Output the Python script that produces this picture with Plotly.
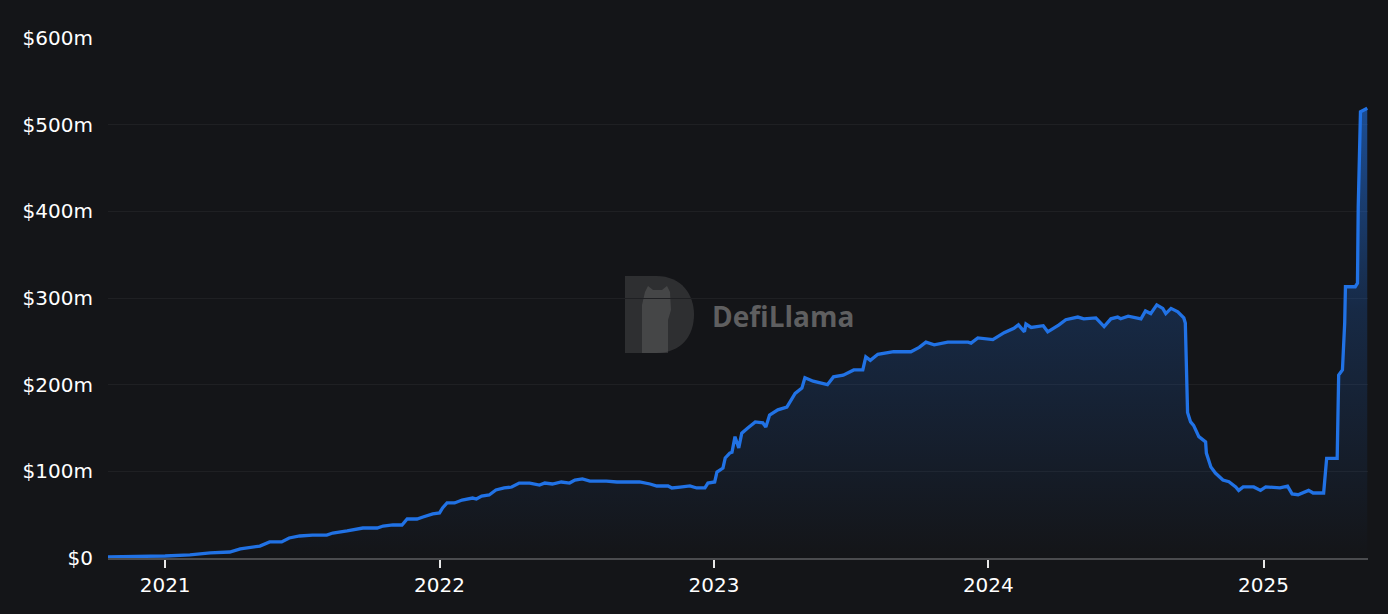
import plotly.graph_objects as go

dates = [
    "2020-10-17", "2020-11-15", "2020-12-12", "2021-01-01", "2021-02-03", "2021-03-02",
    "2021-03-28", "2021-04-11", "2021-05-07", "2021-05-13", "2021-05-20", "2021-06-05",
    "2021-06-15", "2021-06-29", "2021-07-16", "2021-08-04", "2021-08-12", "2021-08-31",
    "2021-09-21", "2021-10-10", "2021-10-18", "2021-10-31", "2021-11-12", "2021-11-19",
    "2021-12-02", "2021-12-10", "2021-12-23", "2022-01-01", "2022-01-05", "2022-01-11",
    "2022-01-21", "2022-01-31", "2022-02-14", "2022-02-19", "2022-02-26", "2022-03-08",
    "2022-03-17", "2022-03-28", "2022-04-07", "2022-04-17", "2022-05-01", "2022-05-14",
    "2022-05-21", "2022-05-31", "2022-06-12", "2022-06-23", "2022-06-30", "2022-07-10",
    "2022-07-20", "2022-08-11", "2022-08-25", "2022-09-07", "2022-09-24", "2022-10-08",
    "2022-10-17", "2022-11-01", "2022-11-06", "2022-11-17", "2022-11-30", "2022-12-09",
    "2022-12-20", "2022-12-24", "2023-01-02", "2023-01-05", "2023-01-13", "2023-01-16",
    "2023-01-22", "2023-01-25", "2023-01-29", "2023-02-03", "2023-02-07", "2023-02-15",
    "2023-02-25", "2023-03-07", "2023-03-11", "2023-03-16", "2023-03-27", "2023-04-08",
    "2023-04-19", "2023-04-28", "2023-05-02", "2023-05-13", "2023-06-01", "2023-06-09",
    "2023-06-22", "2023-07-06", "2023-07-18", "2023-07-22", "2023-07-28", "2023-08-07",
    "2023-08-28", "2023-09-20", "2023-10-01", "2023-10-10", "2023-10-21", "2023-11-08",
    "2023-12-05", "2023-12-09", "2023-12-18", "2024-01-07", "2024-01-15", "2024-01-22",
    "2024-02-04", "2024-02-10", "2024-02-18", "2024-02-20", "2024-02-27", "2024-03-14",
    "2024-03-20", "2024-04-04", "2024-04-13", "2024-04-29", "2024-05-07", "2024-05-23",
    "2024-06-03", "2024-06-12", "2024-06-21", "2024-06-25", "2024-07-05", "2024-07-13",
    "2024-07-22", "2024-07-28", "2024-08-04", "2024-08-12", "2024-08-20", "2024-08-24",
    "2024-08-31", "2024-09-09", "2024-09-17", "2024-09-19", "2024-09-22", "2024-09-26",
    "2024-09-30", "2024-10-07", "2024-10-16", "2024-10-17", "2024-10-23", "2024-10-29",
    "2024-11-08", "2024-11-16", "2024-11-25", "2024-11-29", "2024-12-05", "2024-12-19",
    "2024-12-28", "2025-01-04", "2025-01-23", "2025-02-02", "2025-02-08", "2025-02-16",
    "2025-03-02", "2025-03-08", "2025-03-22", "2025-03-26", "2025-04-09", "2025-04-11",
    "2025-04-16", "2025-04-19", "2025-04-20", "2025-05-03", "2025-05-06", "2025-05-07",
    "2025-05-10", "2025-05-19",
]

tvl_musd = [
    1.2, 1.5, 2.0, 2.3, 3.5, 5.8,
    6.9, 10.4, 13.8, 16.2, 18.5, 18.5,
    23.1, 25.4, 26.5, 26.5, 28.8, 31.2,
    34.6, 34.6, 36.9, 38.1, 38.1, 45.0,
    45.0, 47.3, 50.8, 52.0, 57.7, 63.5,
    63.5, 66.9, 69.2, 68.1, 71.5, 72.7,
    78.5, 80.8, 81.9, 86.5, 86.5, 84.2,
    86.5, 85.4, 87.7, 86.5, 90.0, 91.2,
    88.8, 88.8, 87.7, 87.7, 87.7, 85.4,
    83.1, 83.1, 80.8, 81.9, 83.1, 80.8,
    80.8, 86.5, 87.7, 99.2, 103.8, 115.4,
    121.1, 122, 140, 127, 144, 150,
    157, 156, 151, 165, 171, 174,
    190, 196, 208, 204, 200, 209,
    211, 217, 217, 232, 228, 235,
    238, 238, 243, 249, 246, 249,
    249, 248, 254, 252, 256, 260,
    265, 269, 261, 270, 266, 268,
    261, 269, 275, 278, 276, 277,
    267, 276, 278, 276, 279, 278,
    276, 285, 282, 292, 288, 282,
    288, 284, 277, 271, 168, 157,
    153, 140, 134, 121, 105, 98,
    90, 88, 82, 78, 82, 82,
    78, 82, 81, 83, 74, 73,
    78, 75, 75, 115, 115, 211,
    217, 271, 313, 313, 317, 405,
    515, 519,
]

y_tickvals = [0, 100, 200, 300, 400, 500, 600]
y_ticktext = ["$0", "$100m", "$200m", "$300m", "$400m", "$500m", "$600m"]
x_tickvals = ["2021-01-01", "2022-01-01", "2023-01-01", "2024-01-01", "2025-01-01"]
x_ticktext = ["2021", "2022", "2023", "2024", "2025"]

BG = "#141518"
LINE = "#2172E5"
FONT = "DejaVu Sans"

fig = go.Figure()
fig.add_trace(go.Scatter(
    x=dates, y=tvl_musd, mode="lines",
    line=dict(color=LINE, width=3.3),
    fill="tozeroy",
    fillgradient=dict(
        type="vertical",
        start=0, stop=max(tvl_musd),
        colorscale=[[0, "rgba(33,114,229,0.0)"],
                    [0.55, "rgba(33,114,229,0.22)"],
                    [1, "rgba(33,114,229,0.6)"]],
    ),
    hoverinfo="skip", showlegend=False,
))

# Watermark: "D" badge + text (paper coords)
def px_x(p):
    return (p - 108) / 1260.0

def px_y(p):
    return (558 - p) / 520.0

x0, x1, xm = px_x(625), px_x(694), px_x(656)
yt, yb = px_y(276), px_y(353)
fig.add_shape(
    type="path", xref="paper", yref="paper",
    path=(f"M {x0},{yb} L {x0},{yt} L {xm},{yt} "
          f"C {px_x(682)},{yt} {x1},{px_y(295)} {x1},{(yt+yb)/2} "
          f"C {x1},{px_y(335)} {px_x(682)},{yb} {xm},{yb} Z"),
    fillcolor="rgba(110,110,110,0.30)", line=dict(width=0), layer="below",
)
fig.add_shape(
    type="path", xref="paper", yref="paper",
    path=(f"M {px_x(642)},{px_y(353)} L {px_x(642)},{px_y(305)} L {px_x(645)},{px_y(292)} "
          f"L {px_x(648)},{px_y(286)} L {px_x(653)},{px_y(290)} L {px_x(662)},{px_y(290)} "
          f"L {px_x(667)},{px_y(286)} L {px_x(670)},{px_y(292)} L {px_x(671)},{px_y(310)} "
          f"L {px_x(668)},{px_y(320)} L {px_x(668)},{px_y(353)} Z"),
    fillcolor="rgba(140,140,140,0.25)", line=dict(width=0), layer="below",
)
fig.add_annotation(
    x=px_x(783), y=px_y(316), xref="paper", yref="paper",
    text="<b>DefiLlama</b>", showarrow=False,
    font=dict(family="Open Sans", size=28, color="rgba(120,120,120,0.75)"),
)

fig.update_layout(
    width=1388, height=614,
    paper_bgcolor=BG, plot_bgcolor=BG,
    margin=dict(l=108, r=20, t=38, b=56),
    font=dict(family=FONT, size=20, color="#ffffff"),
    xaxis=dict(
        type="date",
        range=["2020-10-17", "2025-05-20"],
        tickvals=x_tickvals, ticktext=x_ticktext,
        showgrid=False, zeroline=False,
        showline=True, linecolor="#4a4b4e", linewidth=2,
        ticks="outside", ticklen=8, tickwidth=2, tickcolor="#e8e8e8",
        tickfont=dict(family=FONT, size=20, color="#ffffff"),
    ),
    yaxis=dict(
        range=[0, 600],
        tickvals=y_tickvals, ticktext=y_ticktext,
        showgrid=True, gridcolor="#1f2023", gridwidth=1,
        zeroline=False, showline=False, ticks="",
        ticklabelstandoff=14,
        tickfont=dict(family=FONT, size=20, color="#ffffff"),
    ),
)

fig.write_html(
    "out.html",
    config={"displayModeBar": False},
    post_script="document.body.style.margin='0px';document.body.style.background='#141518';",
)
